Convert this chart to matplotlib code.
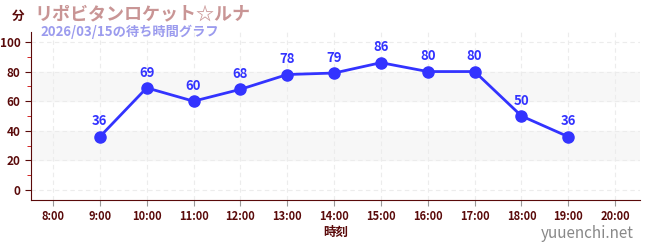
import matplotlib
matplotlib.use('Agg')
import matplotlib.pyplot as plt
from matplotlib.ticker import MultipleLocator

plt.rcParams['font.family'] = ['Noto Sans CJK JP', 'DejaVu Sans']

# data
hours = [9, 10, 11, 12, 13, 14, 15, 16, 17, 18, 19]
waits = [36, 69, 60, 68, 78, 79, 86, 80, 80, 50, 36]
tick_hours = list(range(8, 21))
tick_labels = [f"{h}:00" for h in tick_hours]
title = "リポビタンロケット☆ルナ"
subtitle = "2026/03/15の待ち時間グラフ"

dark = '#5a0a0a'
blue = '#3333ff'

fig = plt.figure(figsize=(6.5, 2.5), dpi=100)
ax = fig.add_axes([31/650, 50/250, 609/650, 168/250])

ax.set_xlim(7.53, 20.53)
ax.set_ylim(-6.7, 106.7)

# alternating bands
for lo, hi in [(20, 40), (60, 80)]:
    ax.axhspan(lo, hi, color='#f7f7f7', zorder=0)

ax.set_yticks([0, 20, 40, 60, 80, 100])
ax.yaxis.set_minor_locator(MultipleLocator(10))
ax.set_xticks(tick_hours)
ax.set_xticklabels(tick_labels)
ax.grid(True, which='major', color='#ececec', linestyle=(0, (4, 3)), linewidth=0.8, zorder=0)

ax.plot(hours, waits, color=blue, linewidth=2, marker='o', markersize=8, zorder=3)
for h, w in zip(hours, waits):
    ax.annotate(str(w), (h, w), xytext=(0, 6), textcoords='offset points',
                ha='center', va='bottom', color=blue, fontsize=9.5, fontweight='bold')

for side in ['top', 'right']:
    ax.spines[side].set_visible(False)
for side in ['left', 'bottom']:
    ax.spines[side].set_color(dark)
ax.tick_params(axis='both', which='major', colors=dark, labelsize=8.5, length=4)
ax.tick_params(axis='y', which='minor', colors='#cc0000', length=3)
ax.tick_params(axis='x', which='major', color='#999999', labelcolor=dark, labelsize=8)
for lbl in ax.get_xticklabels() + ax.get_yticklabels():
    lbl.set_color(dark)
    lbl.set_fontweight('bold')

ax.set_xlabel("時刻", color=dark, fontsize=9, fontweight='bold', labelpad=2)

fig.text(12/650, 1 - 16/250, "分", color=dark, fontsize=9, fontweight='bold', va='center')
fig.text(34/650, 1 - 14/250, title, color='#c99595', fontsize=13, fontweight='bold', va='center')
fig.text(40/650, 1 - 32/250, subtitle, color='#9b9bee', fontsize=9.5, fontweight='bold', va='center')
fig.text(634/650, 1 - 234/250, "yuuenchi.net", color='#888888', fontsize=11, ha='right', va='center')

fig.savefig('out.png', dpi=100)
